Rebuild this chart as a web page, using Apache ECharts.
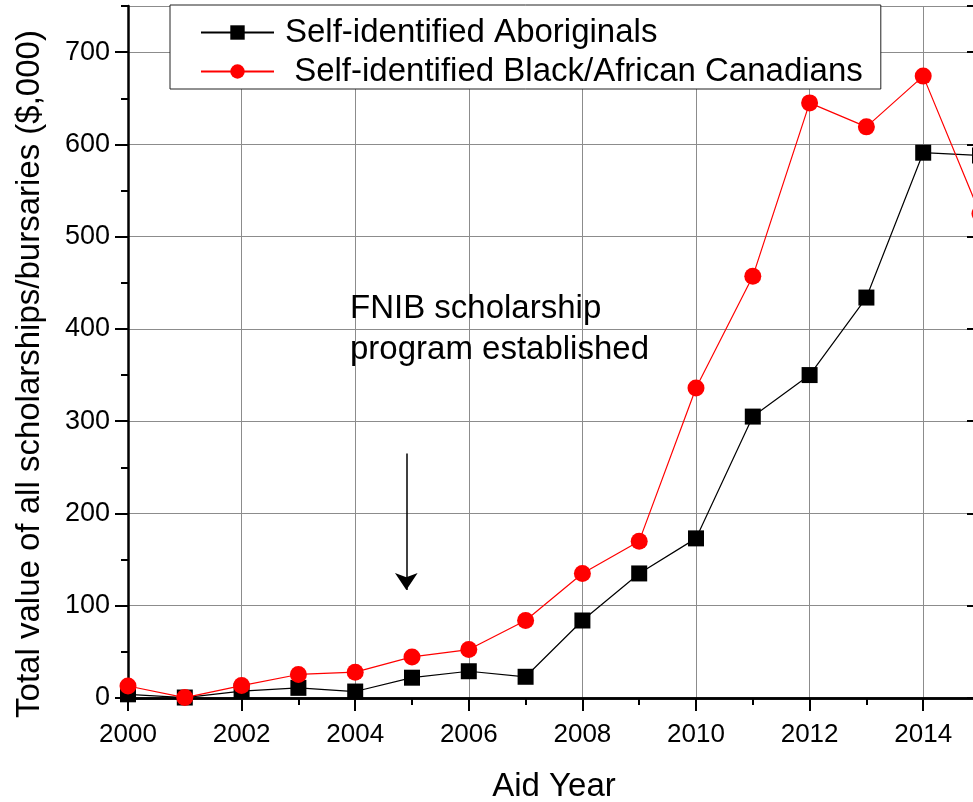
<!DOCTYPE html>
<html>
<head>
<meta charset="utf-8">
<script src="https://cdn.jsdelivr.net/npm/echarts@6/dist/echarts.min.js"></script>
<style>
  html, body { margin: 0; padding: 0; background: #fff; }
  #chart { width: 973px; height: 802px; }
</style>
</head>
<body>
<div id="chart"></div>
<script>
    var years = [2000, 2001, 2002, 2003, 2004, 2005, 2006, 2007, 2008, 2009, 2010, 2011, 2012, 2013, 2014, 2015];
    var aboriginals = [4, 0.5, 7.5, 11, 7, 22, 29, 23, 84, 135, 173, 305, 350, 434, 591, 588];
    var blackAfrican = [13, 0.5, 13.5, 25.5, 28, 44.5, 52.5, 84, 135, 170, 336, 457, 645, 619, 674, 525];
    var seriesNames = ['Self-identified Aboriginals', ' Self-identified Black/African Canadians'];
    var note = 'FNIB scholarship\nprogram established';
    // arrow under the note, in data units
    var arrowFrom = [2004.9, 265];
    var arrowTo = [2004.9, 117];

    var font = 'Liberation Sans, Arial, sans-serif';
    function pairs(vals) {
        var out = [];
        for (var i = 0; i < years.length; i++) out.push([years[i], vals[i]]);
        return out;
    }

    var myChart = echarts.init(document.getElementById('chart'));
    myChart.setOption({
        backgroundColor: '#fff',
        animation: false,
        grid: { left: 128, top: 6, right: -7, bottom: 104, outerBoundsMode: 'none', containLabel: false },
        legend: {
            orient: 'vertical',
            left: 170,
            top: 5,
            padding: [11, 18, 1, 30],
            itemGap: 6,
            itemWidth: 73,
            itemHeight: 18,
            backgroundColor: '#fff',
            borderColor: '#222',
            borderWidth: 1,
            textStyle: { fontFamily: font, fontSize: 33, lineHeight: 33, color: '#000', padding: [0, 0, 0, 6] },
            data: seriesNames
        },
        xAxis: [
            {   // major ticks + labels
                type: 'value', min: 2000, max: 2015, interval: 2,
                name: 'Aid Year', nameLocation: 'middle', nameGap: 72,
                nameTextStyle: { fontFamily: font, fontSize: 33, color: '#000' },
                axisLine: { lineStyle: { color: '#000', width: 2.5 } },
                axisTick: { length: 13, lineStyle: { color: '#000', width: 2 } },
                axisLabel: {
                    fontFamily: font, fontSize: 26, color: '#000', margin: 24, showMaxLabel: false,
                    formatter: function (v) { return String(v); }
                },
                splitLine: { show: true, lineStyle: { color: '#8c8c8c', width: 1 } }
            },
            {   // minor ticks
                type: 'value', min: 2000, max: 2015, interval: 1, position: 'bottom',
                axisLine: { show: false },
                axisTick: { length: 7, lineStyle: { color: '#000', width: 2 } },
                axisLabel: { show: false },
                splitLine: { show: false }
            },
            {   // top frame
                type: 'value', min: 2000, max: 2015, interval: 2, position: 'top',
                axisLine: { lineStyle: { color: '#000', width: 2.5 } },
                axisTick: { inside: true, length: 13, lineStyle: { color: '#000', width: 2 } },
                axisLabel: { show: false },
                splitLine: { show: false }
            }
        ],
        yAxis: [
            {
                type: 'value', min: 0, max: 750, interval: 100,
                name: 'Total value of all scholarships/bursaries ($,000)',
                nameLocation: 'middle', nameGap: 82,
                nameTextStyle: { fontFamily: font, fontSize: 33, color: '#000', padding: [0, 44, 0, 0] },
                axisLine: { lineStyle: { color: '#000', width: 2.5 } },
                axisTick: { length: 13, lineStyle: { color: '#000', width: 2 } },
                axisLabel: { fontFamily: font, fontSize: 27, color: '#000', margin: 18, showMaxLabel: false },
                splitLine: { show: true, lineStyle: { color: '#8c8c8c', width: 1 } }
            },
            {
                type: 'value', min: 0, max: 750, interval: 50, position: 'left',
                axisLine: { show: false },
                axisTick: { length: 7, lineStyle: { color: '#000', width: 2 } },
                axisLabel: { show: false },
                splitLine: { show: false }
            },
            {
                type: 'value', min: 0, max: 750, interval: 100, position: 'right',
                axisLine: { lineStyle: { color: '#000', width: 2.5 } },
                axisTick: { inside: true, length: 13, lineStyle: { color: '#000', width: 2 } },
                axisLabel: { show: false },
                splitLine: { show: false }
            },
            {
                type: 'value', min: 0, max: 750, interval: 50, position: 'right',
                axisLine: { show: false },
                axisTick: { inside: true, length: 7, lineStyle: { color: '#000', width: 2 } },
                axisLabel: { show: false },
                splitLine: { show: false }
            }
        ],
        graphic: [{
            type: 'text', left: 350, top: 288, z: 10,
            style: { text: note, fontFamily: font, fontSize: 33, lineHeight: 41, fill: '#000' }
        }],
        series: [
            {
                name: seriesNames[0],
                type: 'line',
                data: pairs(aboriginals),
                symbol: 'rect',
                symbolSize: 16,
                lineStyle: { color: '#000', width: 1.2 },
                itemStyle: { color: '#000' },
                z: 3,
                markLine: {
                    silent: true,
                    symbol: ['none', 'arrow'],
                    symbolSize: 17,
                    label: { show: false },
                    lineStyle: { color: '#000', width: 1.5, type: 'solid' },
                    itemStyle: { color: '#000' },
                    data: [[{ coord: arrowFrom }, { coord: arrowTo }]]
                }
            },
            {
                name: seriesNames[1],
                type: 'line',
                data: pairs(blackAfrican),
                symbol: 'circle',
                symbolSize: 17,
                lineStyle: { color: '#ff0000', width: 1.2 },
                itemStyle: { color: '#ff0000' },
                z: 4
            }
        ]
    });
</script>
</body>
</html>
